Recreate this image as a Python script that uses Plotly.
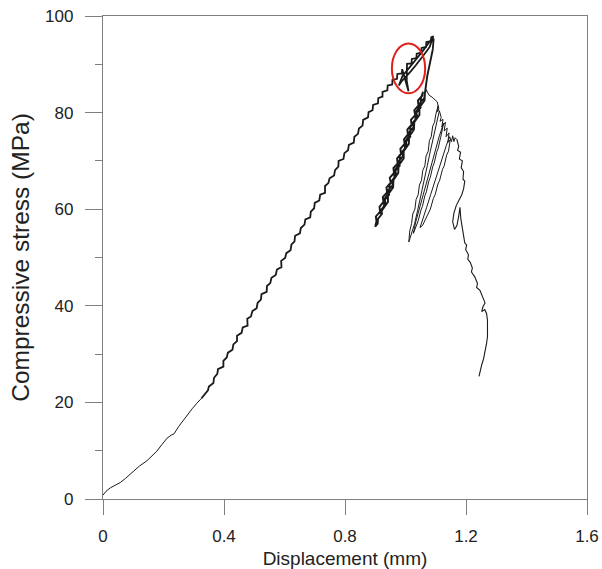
import plotly.graph_objects as go

# ---- data ----
# initial smooth loading branch
disp_initial = [0.000, 0.010, 0.024, 0.040, 0.057, 0.075, 0.090, 0.101, 0.120, 0.145,
                0.160, 0.178, 0.195, 0.212, 0.225, 0.235, 0.250, 0.266, 0.280, 0.295,
                0.310, 0.325]
stress_initial = [0.8, 1.6, 2.3, 2.8, 3.4, 4.3, 5.2, 5.8, 6.8, 7.9,
                  8.8, 9.9, 11.3, 12.6, 13.2, 13.5, 15.0, 16.4, 17.5, 18.7,
                  19.8, 20.8]

# noisy loading branch up to the peak (with small back-and-forth near the peak)
disp_loading = [0.336, 0.347, 0.350, 0.365, 0.367, 0.378, 0.380, 0.398, 0.398, 0.409,
                0.413, 0.428, 0.431, 0.443, 0.443, 0.458, 0.462, 0.478, 0.477, 0.489,
                0.494, 0.508, 0.511, 0.522, 0.524, 0.541, 0.542, 0.553, 0.557, 0.571,
                0.575, 0.590, 0.589, 0.602, 0.606, 0.620, 0.623, 0.633, 0.635, 0.651,
                0.654, 0.666, 0.669, 0.685, 0.687, 0.698, 0.700, 0.715, 0.718, 0.734,
                0.734, 0.745, 0.749, 0.764, 0.767, 0.778, 0.779, 0.795, 0.798, 0.810,
                0.813, 0.829, 0.831, 0.843, 0.846, 0.858, 0.860, 0.876, 0.878, 0.891,
                0.893, 0.909, 0.910, 0.924, 0.924, 0.940, 0.941, 0.956, 0.957, 0.972,
                0.973, 0.988, 0.989, 1.010, 1.004, 1.004, 1.005, 1.020, 1.021, 1.036,
                1.037, 1.052, 1.053, 1.068, 1.069, 1.084, 1.085, 1.092,
                1.080, 1.066, 1.050, 1.034, 1.018, 1.000, 0.986, 0.978,
                0.990, 1.006, 1.022, 1.040, 1.058, 1.074, 1.088, 1.093, 1.090]
stress_loading = [21.6, 22.5, 23.3, 24.0, 25.1, 25.9, 26.9, 27.4, 28.6, 29.3,
                  30.3, 30.9, 32.0, 32.7, 33.8, 34.4, 35.5, 35.9, 37.3, 37.8,
                  38.9, 39.5, 40.6, 41.3, 42.4, 42.9, 44.1, 44.7, 45.8, 46.4,
                  47.5, 48.0, 49.3, 49.9, 50.9, 51.5, 52.7, 53.3, 54.5, 55.0,
                  56.1, 56.8, 57.9, 58.3, 59.5, 60.2, 61.3, 61.8, 63.0, 63.4,
                  64.8, 65.4, 66.4, 67.0, 68.1, 68.8, 70.0, 70.4, 71.6, 72.2,
                  73.3, 73.8, 75.0, 75.6, 76.7, 77.3, 78.5, 79.0, 80.1, 80.5,
                  81.6, 81.9, 83.0, 83.3, 84.3, 84.6, 85.6, 85.8, 86.8, 87.0,
                  88.0, 88.1, 89.0, 84.4, 86.6, 89.2, 90.1, 90.2, 91.1, 91.3,
                  92.2, 92.4, 93.4, 93.6, 94.6, 94.8, 95.6, 95.8,
                  93.6, 92.4, 91.0, 89.8, 88.6, 87.4, 86.4, 85.6,
                  87.6, 88.8, 90.0, 91.4, 92.8, 94.2, 95.4, 95.2, 93.0]

# post-peak drop and first unloading/reloading band (several passes)
disp_band1 = [1.072, 1.062, 1.048, 1.050, 1.036, 1.039, 1.025, 1.027, 1.013, 1.016,
              1.002, 1.004, 0.990, 0.992, 0.979, 0.981, 0.967, 0.969, 0.956, 0.958,
              0.944, 0.946, 0.932, 0.934, 0.921, 0.922, 0.909, 0.908, 0.900,
              0.904, 0.902, 0.916, 0.914, 0.927, 0.925, 0.939, 0.937, 0.951, 0.948,
              0.962, 0.960, 0.974, 0.972, 0.985, 0.983, 0.997, 0.995, 1.008, 1.006,
              1.020, 1.018, 1.032, 1.029, 1.043, 1.041, 1.055, 1.058,
              1.051, 1.050, 1.033, 1.033, 1.016, 1.015, 0.999, 0.998, 0.981, 0.981,
              0.964, 0.963, 0.947, 0.946, 0.929, 0.929, 0.914,
              0.925, 0.942, 0.942, 0.959, 0.960, 0.976, 0.977, 0.994, 0.994, 1.011,
              1.012, 1.028, 1.029, 1.046, 1.046, 1.063, 1.064, 1.068]
stress_band1 = [87.6, 83.0, 82.0, 81.0, 80.0, 79.0, 78.0, 77.0, 76.0, 75.0,
                74.0, 73.0, 72.0, 71.0, 70.0, 69.0, 68.0, 67.0, 66.0, 65.0,
                64.0, 63.0, 62.0, 61.0, 60.0, 59.0, 58.0, 57.0, 56.4,
                57.5, 58.5, 59.5, 60.5, 61.5, 62.5, 63.5, 64.5, 65.5, 66.5,
                67.5, 68.5, 69.5, 70.5, 71.5, 72.5, 73.5, 74.5, 75.5, 76.5,
                77.5, 78.5, 79.5, 80.5, 81.5, 82.5, 83.5, 84.3,
                83.0, 81.5, 80.0, 78.5, 77.0, 75.5, 74.0, 72.5, 71.0, 69.5,
                68.0, 66.5, 65.0, 63.5, 62.0, 60.5, 59.0,
                60.0, 61.5, 63.0, 64.5, 66.0, 67.5, 69.0, 70.5, 72.0, 73.5,
                75.0, 76.5, 78.0, 79.5, 81.0, 82.5, 84.0, 84.8]

# second peak and its long unloading/reloading loops
disp_band2 = [1.078, 1.088, 1.098, 1.105, 1.110, 1.106, 1.108,
              1.100, 1.096, 1.090, 1.085, 1.079, 1.075, 1.068, 1.064, 1.057, 1.053,
              1.046, 1.042, 1.035, 1.031, 1.024, 1.020, 1.014, 1.011,
              1.018, 1.030, 1.041, 1.052, 1.062, 1.072, 1.082, 1.092, 1.102, 1.112,
              1.118, 1.114, 1.124, 1.120, 1.126,
              1.120, 1.116, 1.108, 1.103, 1.095, 1.090, 1.082, 1.077, 1.069, 1.064,
              1.056, 1.051, 1.042, 1.034, 1.026,
              1.034, 1.046, 1.059, 1.072, 1.086, 1.099, 1.112, 1.124, 1.132,
              1.128, 1.138, 1.134, 1.144, 1.140, 1.148,
              1.142, 1.136, 1.128, 1.122, 1.113, 1.107, 1.098, 1.092, 1.082, 1.076,
              1.066, 1.056, 1.048,
              1.058, 1.070, 1.083, 1.096, 1.109, 1.122, 1.135, 1.146,
              1.152, 1.156, 1.160, 1.164, 1.170]
stress_band2 = [83.6, 83.2, 82.6, 82.2, 80.8, 80.2, 81.4,
                79.6, 78.0, 77.2, 75.0, 74.2, 72.0, 71.0, 69.0, 68.0, 66.0,
                65.0, 63.0, 62.0, 60.0, 59.0, 57.0, 55.5, 53.2,
                54.6, 57.0, 60.0, 63.0, 66.0, 69.0, 72.0, 75.0, 78.0, 80.4,
                79.0, 78.2, 78.6, 77.0, 77.8,
                75.6, 74.8, 72.6, 71.8, 69.6, 68.8, 66.6, 65.8, 63.6, 62.8,
                60.6, 59.8, 57.6, 56.4, 55.0,
                57.4, 60.2, 63.2, 66.2, 69.2, 72.2, 75.2, 77.4, 78.0,
                76.2, 76.8, 75.0, 75.8, 73.8, 74.4,
                72.0, 71.2, 69.0, 68.2, 66.0, 65.2, 63.0, 62.2, 60.0, 59.2,
                57.6, 56.6, 56.2,
                58.0, 60.4, 63.0, 65.6, 68.2, 70.8, 73.2, 75.0,
                74.0, 75.2, 74.0, 74.8, 74.4]

# third group and final softening tail
disp_tail = [1.176, 1.172, 1.182, 1.178, 1.188, 1.184, 1.192, 1.190, 1.196, 1.192,
             1.186, 1.178, 1.168, 1.160, 1.156, 1.162, 1.170, 1.176, 1.180, 1.183,
             1.188, 1.192, 1.196, 1.202, 1.199, 1.208, 1.206, 1.214, 1.221, 1.218,
             1.229, 1.238, 1.235, 1.246, 1.254, 1.263, 1.256, 1.252, 1.262, 1.268,
             1.271, 1.272, 1.271, 1.268, 1.264, 1.258, 1.252, 1.247, 1.243]
stress_tail = [73.0, 72.2, 71.8, 70.4, 70.0, 68.6, 67.8, 66.2, 65.8, 64.2,
               63.0, 62.0, 60.8, 59.2, 57.4, 55.8, 56.6, 58.6, 60.4, 58.0,
               56.0, 54.4, 53.0, 52.6, 51.6, 50.6, 49.6, 49.0, 47.8, 47.0,
               46.0, 44.6, 43.8, 43.2, 42.0, 40.6, 39.8, 38.8, 39.2, 38.4,
               37.0, 35.4, 33.6, 32.2, 30.8, 29.0, 27.8, 26.6, 25.4]

x_ticks = [0, 0.4, 0.8, 1.2, 1.6]
x_tick_labels = ["0", "0.4", "0.8", "1.2", "1.6"]
y_ticks = [0, 20, 40, 60, 80, 100]
y_tick_labels = ["0", "20", "40", "60", "80", "100"]

AXIS_GRAY = "#808080"
TEXT = "#222222"
LINE = "#1a1a1a"
FONT = "Liberation Sans, Arial, sans-serif"

segments = [
    (disp_initial, stress_initial, 1.0),
    (disp_loading, stress_loading, 1.8),
    (disp_band1, stress_band1, 1.9),
    (disp_band2, stress_band2, 1.0),
    (disp_tail, stress_tail, 1.1),
]

fig = go.Figure()
prev_x, prev_y = [], []
for xs, ys, w in segments:
    fig.add_trace(go.Scatter(
        x=prev_x + list(xs), y=prev_y + list(ys), mode="lines",
        line=dict(color=LINE, width=w),
        hoverinfo="skip", showlegend=False,
    ))
    prev_x, prev_y = [xs[-1]], [ys[-1]]

# red ellipse highlighting the peak region
fig.add_shape(type="circle", xref="x", yref="y",
              x0=0.955, x1=1.065, y0=84.0, y1=94.3,
              line=dict(color="#e0201a", width=2))

fig.update_layout(
    width=602, height=569,
    margin=dict(l=103, r=15, t=16, b=70, autoexpand=False),
    paper_bgcolor="white", plot_bgcolor="white",
    font=dict(family=FONT, color=TEXT),
    showlegend=False,
)
fig.update_xaxes(
    range=[0, 1.6], tickvals=x_ticks, ticktext=x_tick_labels,
    ticks="outside", ticklen=15, tickwidth=1.3, tickcolor=AXIS_GRAY,
    showline=True, linecolor=AXIS_GRAY, linewidth=1.3, mirror=True,
    showgrid=False, zeroline=False, automargin=False,
    tickfont=dict(size=17, color=TEXT), ticklabelstandoff=6,
    title=dict(text="Displacement (mm)", font=dict(size=19, color=TEXT), standoff=7),
)
fig.update_yaxes(
    range=[0, 100], tickvals=y_ticks, ticktext=y_tick_labels,
    ticks="outside", ticklen=17, tickwidth=1.3, tickcolor=AXIS_GRAY,
    minor=dict(dtick=10, ticks="outside", ticklen=7, tickwidth=1.3,
               tickcolor=AXIS_GRAY, showgrid=False),
    showline=True, linecolor=AXIS_GRAY, linewidth=1.3, mirror=True,
    showgrid=False, zeroline=False, automargin=False,
    tickfont=dict(size=17, color=TEXT), ticklabelstandoff=8,
    title=dict(text="Compressive stress (MPa)", font=dict(size=24.5, color=TEXT), standoff=8),
)

fig.write_html("out.html")
